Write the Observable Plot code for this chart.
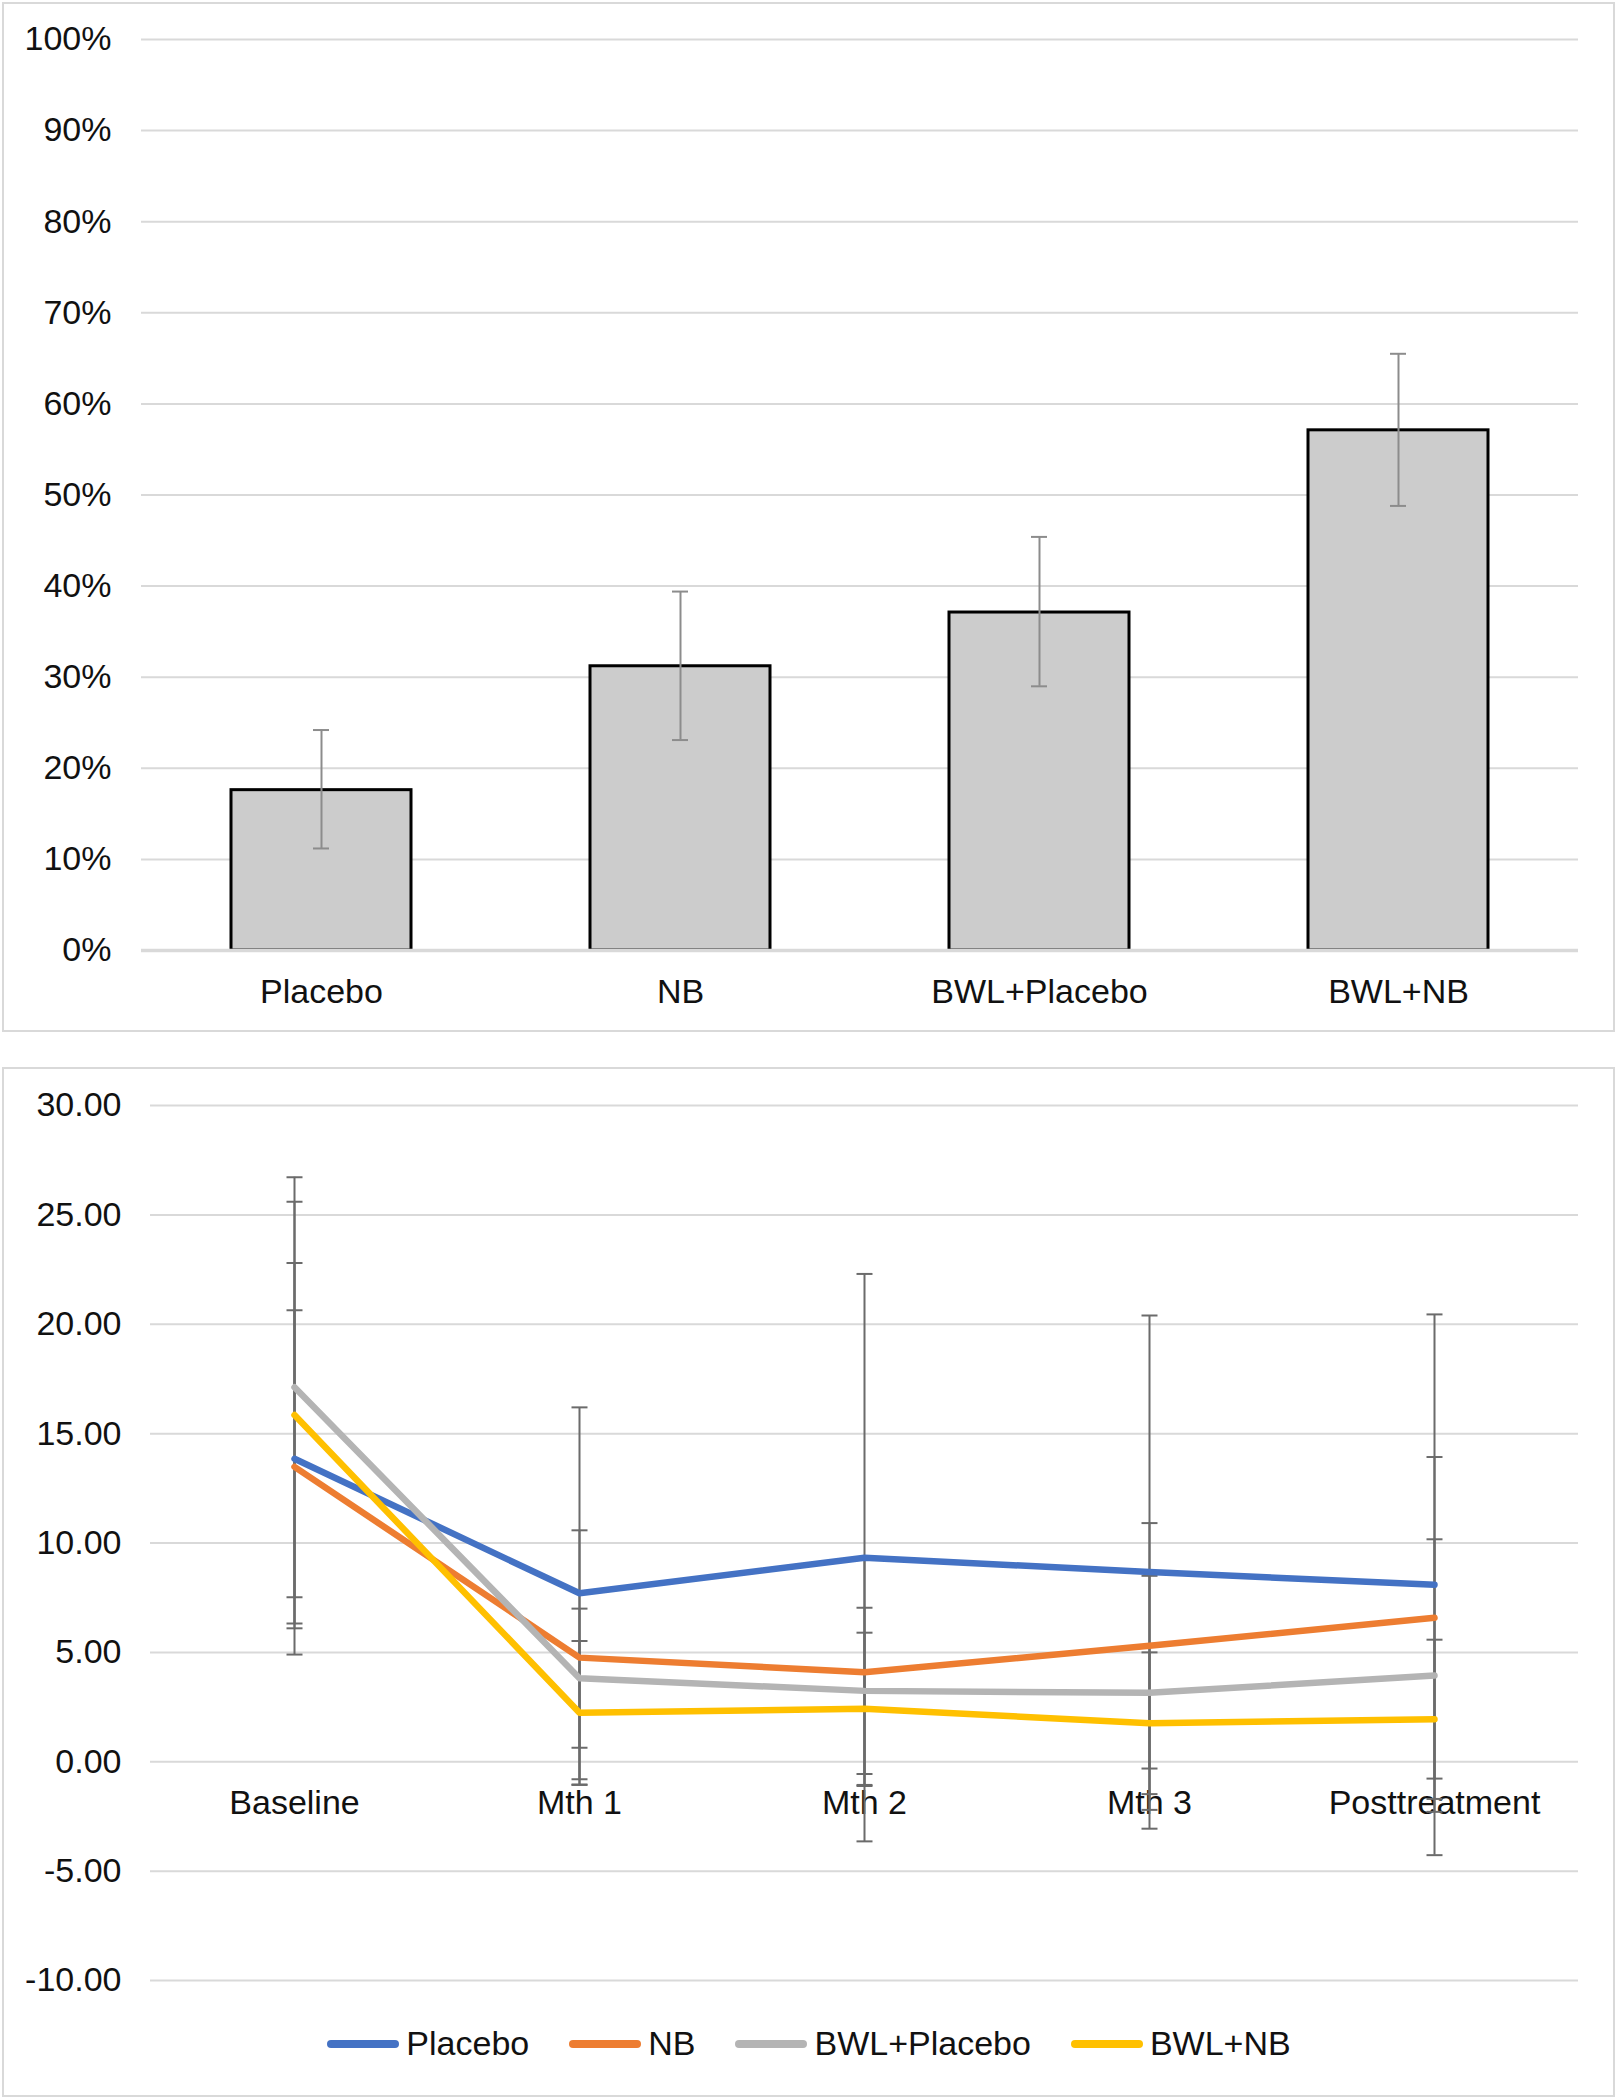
<!DOCTYPE html>
<html>
<head>
<meta charset="utf-8">
<script src="https://cdn.jsdelivr.net/npm/d3@7"></script>
<script src="https://cdn.jsdelivr.net/npm/@observablehq/plot@0.6"></script>
<style>
  html, body { margin: 0; padding: 0; background: #fff; }
  body { width: 1618px; height: 2100px; position: relative; font-family: "Liberation Sans", Arial, sans-serif; color: #111; }
  .panel { position: absolute; box-sizing: border-box; border: 2px solid #d9d9d9; background: #fff; }
  .chart { position: absolute; left: 0; }
  #legend { position: absolute; left: 0; width: 1618px; top: 2024px; display: flex; justify-content: center; align-items: center; gap: 40px; font-size: 34px; }
  .item { display: flex; align-items: center; gap: 7px; }
  .sw { width: 72px; height: 8px; border-radius: 4px; }
</style>
</head>
<body>
<div class="panel" style="left:2px;top:2px;width:1613px;height:1030px;"></div>
<div class="panel" style="left:2px;top:1067px;width:1613px;height:1030px;"></div>
<div id="top" class="chart" style="top:0px;"></div>
<div id="bottom" class="chart" style="top:1067px;"></div>
<div id="legend"></div>
<script>
// ---- Top chart data ----
const groups = ["Placebo", "NB", "BWL+Placebo", "BWL+NB"];
const pctValues = [17.6, 31.2, 37.1, 57.1];
const pctLow = [11.2, 23.1, 29.0, 48.8];
const pctHigh = [24.2, 39.4, 45.4, 65.5];
const pctTicks = [0, 10, 20, 30, 40, 50, 60, 70, 80, 90, 100];

// ---- Bottom chart data ----
const timepoints = ["Baseline", "Mth 1", "Mth 2", "Mth 3", "Posttreatment"];
const seriesNames = ["Placebo", "NB", "BWL+Placebo", "BWL+NB"];
const placeboMeans = [13.85, 7.70, 9.33, 8.67, 8.09];
const placeboErr = [8.95, 8.50, 12.97, 11.73, 12.36];
const nbMeans = [13.48, 4.76, 4.09, 5.30, 6.58];
const nbErr = [7.16, 5.82, 5.20, 5.61, 7.35];
const bwlPlaceboMeans = [17.12, 3.82, 3.24, 3.15, 3.94];
const bwlPlaceboErr = [9.60, 3.18, 3.80, 5.35, 6.23];
const bwlNbMeans = [15.85, 2.24, 2.42, 1.76, 1.94];
const bwlNbErr = [9.75, 3.28, 3.48, 3.24, 3.64];
const seriesColors = ["#4472C4", "#ED7D31", "#B4B4B4", "#FFC000"];
const scoreTicks = [-10, -5, 0, 5, 10, 15, 20, 25, 30];

const font = '"Liberation Sans", Arial, sans-serif';

// Top bar chart
const barData = groups.map((g, i) => ({group: g, value: pctValues[i], lo: pctLow[i], hi: pctHigh[i]}));
const topPlot = Plot.plot({
  width: 1618,
  height: 1030,
  marginLeft: 141,
  marginRight: 40,
  marginTop: 39,
  marginBottom: 80,
  style: {fontSize: "34px", fontFamily: font, color: "#111", background: "transparent"},
  x: {domain: groups, paddingInner: 0.5, paddingOuter: 0.25, tickSize: 0, tickPadding: 28, label: null},
  y: {domain: [0, 100], ticks: pctTicks, tickFormat: d => d + "%", tickSize: 0, tickPadding: 30, label: null},
  marks: [
    Plot.ruleY(pctTicks, {stroke: "#d9d9d9", strokeWidth: 2}),
    Plot.barY(barData, {x: "group", y: "value", fill: "#cccccc", stroke: "#000", strokeWidth: 3}),
    Plot.ruleY([0], {stroke: "#d9d9d9", strokeWidth: 3.5}),
    Plot.ruleX(barData, {x: "group", y1: "lo", y2: "hi", stroke: "#8c8c8c", strokeWidth: 2}),
    Plot.tickY(barData, {x: "group", y: "lo", stroke: "#8c8c8c", strokeWidth: 2, insetLeft: 82, insetRight: 82}),
    Plot.tickY(barData, {x: "group", y: "hi", stroke: "#8c8c8c", strokeWidth: 2, insetLeft: 82, insetRight: 82})
  ]
});
document.getElementById("top").appendChild(topPlot);

// Bottom line chart
const meansBySeries = [placeboMeans, nbMeans, bwlPlaceboMeans, bwlNbMeans];
const errBySeries = [placeboErr, nbErr, bwlPlaceboErr, bwlNbErr];
const rows = [];
seriesNames.forEach((s, si) => {
  timepoints.forEach((t, ti) => {
    const m = meansBySeries[si][ti], e = errBySeries[si][ti];
    rows.push({series: s, time: t, mean: m, lo: m - e, hi: m + e});
  });
});
const capSymbol = {draw(ctx) { ctx.moveTo(-8, 0); ctx.lineTo(8, 0); }};
const errColor = "#6b6b6b";

const bottomPlot = Plot.plot({
  width: 1618,
  height: 950,
  marginLeft: 150,
  marginRight: 40,
  marginTop: 38,
  marginBottom: 37,
  style: {fontSize: "34px", fontFamily: font, color: "#111", background: "transparent"},
  x: {type: "point", domain: timepoints, padding: 0.5, axis: null},
  y: {domain: [-10, 30], ticks: scoreTicks, tickFormat: d => d.toFixed(2), tickSize: 0, tickPadding: 29, label: null},
  color: {domain: seriesNames, range: seriesColors},
  marks: [
    Plot.ruleY(scoreTicks, {stroke: "#d9d9d9", strokeWidth: 2}),
    Plot.text(timepoints, {x: d => d, y: () => 0, dy: 41, text: d => d, fill: "#111", fontSize: 34, textAnchor: "middle"}),
    Plot.ruleX(rows, {x: "time", y1: "lo", y2: "hi", stroke: errColor, strokeWidth: 2}),
    Plot.dot(rows, {x: "time", y: "lo", symbol: capSymbol, stroke: errColor, strokeWidth: 2, fill: "none"}),
    Plot.dot(rows, {x: "time", y: "hi", symbol: capSymbol, stroke: errColor, strokeWidth: 2, fill: "none"}),
    Plot.line(rows, {x: "time", y: "mean", z: "series", stroke: "series", strokeWidth: 6.5, strokeLinejoin: "round", strokeLinecap: "round"})
  ]
});
document.getElementById("bottom").appendChild(bottomPlot);

// Legend
const legend = document.getElementById("legend");
seriesNames.forEach((s, i) => {
  const item = document.createElement("div");
  item.className = "item";
  const sw = document.createElement("div");
  sw.className = "sw";
  sw.style.background = seriesColors[i];
  const lab = document.createElement("span");
  lab.textContent = s;
  item.appendChild(sw);
  item.appendChild(lab);
  legend.appendChild(item);
});
</script>
</body>
</html>
